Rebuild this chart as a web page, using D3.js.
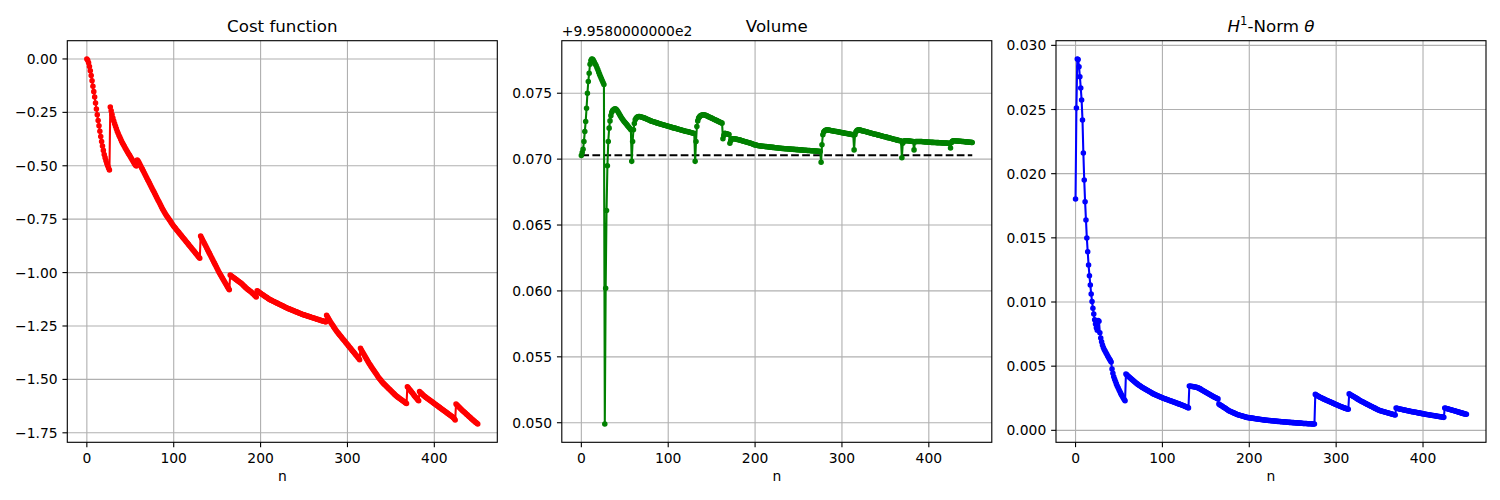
<!DOCTYPE html>
<html><head><meta charset="utf-8">
<script src="https://cdn.jsdelivr.net/npm/d3@7"></script>
<style>body{margin:0;background:#fff}svg{display:block}text{font-family:"DejaVu Sans",sans-serif;fill:#000}</style>
</head><body><svg id="chart" width="1500" height="500"></svg>
<script>
// ---------------- data ----------------
const costValues = [0,-0.006,-0.018,-0.035,-0.055,-0.077,-0.102,-0.128,-0.153,-0.178,-0.206,-0.234,-0.261,-0.288,-0.313,-0.338,-0.363,-0.386,-0.408,-0.428,-0.447,-0.462,-0.476,-0.489,-0.5,-0.51,-0.52,
-0.225,-0.243,-0.26,-0.276,-0.29,-0.303,-0.315,-0.327,-0.338,-0.348,-0.358,-0.367,-0.376,-0.385,-0.393,-0.401,-0.408,-0.416,-0.423,-0.43,-0.437,-0.444,-0.45,-0.457,-0.464,-0.471,-0.478,-0.485,-0.492,-0.497,-0.501,-0.473,
-0.478,-0.485,-0.493,-0.501,-0.509,-0.517,-0.525,-0.533,-0.541,-0.549,-0.557,-0.565,-0.573,-0.581,-0.589,-0.597,-0.605,-0.613,-0.621,-0.629,-0.637,-0.645,-0.653,-0.661,-0.669,-0.677,-0.685,-0.693,-0.701,-0.708,-0.715,-0.722,-0.729,-0.735,-0.741,-0.747,-0.753,-0.759,-0.765,-0.771,-0.777,-0.783,-0.788,-0.793,-0.798,-0.803,-0.808,-0.813,-0.818,-0.823,-0.828,-0.833,-0.838,-0.843,-0.848,-0.853,-0.858,-0.863,-0.868,-0.873,-0.878,-0.883,-0.888,-0.893,-0.898,-0.903,-0.908,-0.913,-0.918,-0.923,-0.928,-0.933,
-0.829,-0.837,-0.845,-0.853,-0.861,-0.869,-0.877,-0.885,-0.893,-0.901,-0.909,-0.917,-0.925,-0.933,-0.941,-0.949,-0.957,-0.965,-0.973,-0.981,-0.989,-0.997,-1.004,-1.011,-1.018,-1.025,-1.032,-1.039,-1.046,-1.053,-1.06,-1.067,-1.074,-1.08,
-1.011,-1.015,-1.018,-1.021,-1.024,-1.027,-1.03,-1.033,-1.036,-1.039,-1.042,-1.045,-1.048,-1.051,-1.055,-1.059,-1.063,-1.067,-1.071,-1.075,-1.078,-1.081,-1.084,-1.087,-1.09,-1.094,-1.098,-1.102,-1.106,-1.11,-1.114,
-1.085,-1.088,-1.091,-1.094,-1.097,-1.1,-1.103,-1.105,-1.108,-1.111,-1.114,-1.116,-1.119,-1.122,-1.125,-1.127,-1.129,-1.131,-1.133,-1.135,-1.137,-1.139,-1.141,-1.143,-1.145,-1.147,-1.149,-1.151,-1.153,-1.155,-1.157,-1.159,-1.161,-1.163,-1.165,-1.167,-1.169,-1.17,-1.172,-1.174,-1.175,-1.177,-1.179,-1.18,-1.182,-1.184,-1.185,-1.187,-1.189,-1.19,-1.192,-1.194,-1.195,-1.197,-1.198,-1.199,-1.201,-1.202,-1.203,-1.205,-1.206,-1.207,-1.209,-1.21,-1.211,-1.213,-1.214,-1.215,-1.217,-1.218,-1.219,-1.221,-1.222,-1.223,-1.225,-1.226,-1.227,-1.228,-1.229,-1.231,
-1.2,-1.207,-1.214,-1.221,-1.228,-1.235,-1.241,-1.247,-1.253,-1.259,-1.265,-1.271,-1.277,-1.282,-1.287,-1.292,-1.297,-1.302,-1.307,-1.312,-1.317,-1.322,-1.327,-1.332,-1.337,-1.342,-1.347,-1.352,-1.357,-1.362,-1.367,-1.372,-1.377,-1.382,-1.387,-1.392,-1.397,-1.402,-1.408,
-1.354,-1.362,-1.37,-1.377,-1.384,-1.391,-1.398,-1.405,-1.412,-1.419,-1.426,-1.432,-1.438,-1.444,-1.45,-1.456,-1.462,-1.468,-1.474,-1.48,-1.486,-1.492,-1.497,-1.502,-1.507,-1.512,-1.517,-1.521,-1.525,-1.529,-1.533,-1.537,-1.541,-1.545,-1.549,-1.553,-1.557,-1.561,-1.565,-1.569,-1.573,-1.577,-1.58,-1.583,-1.586,-1.589,-1.592,-1.595,-1.598,-1.601,-1.604,-1.607,-1.61,-1.613,
-1.534,-1.539,-1.545,-1.55,-1.555,-1.56,-1.565,-1.571,-1.576,-1.581,-1.586,-1.591,-1.596,-1.6,
-1.557,-1.561,-1.565,-1.569,-1.573,-1.577,-1.58,-1.583,-1.586,-1.589,-1.592,-1.595,-1.598,-1.601,-1.604,-1.607,-1.61,-1.613,-1.616,-1.619,-1.622,-1.625,-1.628,-1.631,-1.634,-1.637,-1.64,-1.643,-1.646,-1.649,-1.652,-1.655,-1.658,-1.661,-1.664,-1.667,-1.67,-1.673,-1.676,-1.679,-1.684,-1.69,
-1.615,-1.62,-1.624,-1.628,-1.632,-1.636,-1.64,-1.644,-1.648,-1.651,-1.655,-1.659,-1.663,-1.666,-1.67,-1.674,-1.677,-1.681,-1.685,-1.688,-1.692,-1.695,-1.699,-1.702,-1.705,-1.709];

// volume values relative to the axis offset (+9.9580000000e2)
const volumeOffsetLabel = "+9.9580000000e2";
const volumeValues = [0.07028,0.0705,0.07075,0.07134,0.0721,0.07286,0.07386,0.075,0.07589,0.07652,0.0772,0.07748,0.0776,0.07758,0.07748,0.07735,0.07722,0.0771,0.07694,0.07678,0.0766,0.07643,0.07627,0.07611,0.07596,0.07582,0.07566,
0.0499,0.0602,0.0661,0.0695,
0.07134,0.07235,0.0729,0.0733,0.07355,0.07368,0.07375,0.0738,0.07382,0.07378,0.0737,0.07361,0.0735,0.07338,0.07327,0.07316,0.07306,0.07296,0.07288,0.0728,0.07272,0.07264,0.07256,0.07248,0.0724,0.07232,0.07222,
0.06983,
0.07134,0.07223,0.0727,0.07298,0.0731,0.07318,0.07322,0.07323,0.07323,0.07321,0.07319,0.07317,0.07315,0.07313,0.07311,0.07308,0.07305,0.07302,0.07299,0.07296,0.07293,0.0729,0.07287,0.07285,0.07283,0.07281,0.07279,0.07277,0.07275,0.07273,0.07271,0.07269,0.07267,0.07265,0.07263,0.07261,0.07259,0.07257,0.07255,0.07253,0.07251,0.07249,0.07247,0.07245,0.07243,0.07241,0.07239,0.07237,0.07236,0.07235,0.07233,0.07231,0.07229,0.07227,0.07225,0.07223,0.07221,0.07219,0.07217,0.07215,0.07213,0.07212,0.0721,0.07209,0.07207,0.07205,0.07204,0.07202,0.072,0.07198,0.07197,0.07195,
0.06983,
0.07134,0.07248,0.0729,0.07311,0.07322,0.07328,0.07332,0.07335,0.07336,0.07336,0.07335,0.07333,0.0733,0.07327,0.07323,0.0732,0.07317,0.07314,0.07311,0.07308,0.07304,0.07301,0.07298,0.07295,0.07292,0.07289,0.07286,0.07282,0.07279,0.07276,0.07273,
0.07155,0.0718,0.07197,0.07195,0.07193,0.07191,0.07189,0.07187,
0.07121,0.0714,0.07152,0.07155,0.07155,
0.07154,0.07153,0.07152,0.0715,0.07149,0.07147,0.07146,0.07144,0.07142,0.0714,0.07138,0.07136,0.07134,0.07132,0.0713,0.07128,0.07126,0.07124,0.07122,0.0712,
0.07118,0.07115,0.07113,0.0711,0.07108,0.07107,0.07105,0.07104,0.07102,0.07101,0.071,
0.07099,0.07098,0.07098,0.07097,0.07096,0.07095,0.07095,0.07094,0.07093,0.07092,0.07092,0.07091,0.0709,0.07089,0.07089,0.07088,0.07087,0.07086,0.07086,0.07085,0.07084,0.07083,0.07083,0.07082,0.07081,0.07081,0.0708,
0.07079,0.07079,0.07078,0.07078,0.07077,0.07077,0.07076,0.07076,0.07075,0.07075,0.07074,0.07074,0.07073,0.07073,0.07072,0.07072,0.07071,0.07071,0.0707,0.0707,0.07069,0.07069,0.07068,0.07068,0.07067,0.07067,0.07066,0.07066,0.07065,0.07065,0.07064,0.07064,0.07063,0.07063,0.07062,0.07062,0.07061,0.07061,0.0706,0.0706,0.07059,0.07058,
0.06977,
0.07109,0.07185,0.07205,0.07214,0.07219,0.07221,0.07222,0.07221,0.0722,0.07219,0.07217,0.07216,0.07215,0.07214,0.07212,0.07211,0.0721,0.07209,0.07207,0.07206,0.07205,0.07204,0.07202,0.07201,0.072,0.07199,0.07197,0.07196,0.07195,0.07194,0.07192,0.07191,0.0719,0.07189,0.07187,0.07186,0.07185,
0.0707,
0.07185,0.07205,0.07215,0.0722,0.07223,0.07222,0.0722,0.07218,0.07216,0.07214,0.07213,0.07211,0.07209,0.07207,0.07205,0.07204,0.07202,0.072,0.07198,0.07197,0.07195,0.07193,0.07191,0.07189,0.07188,0.07186,0.07184,0.07182,0.07181,0.07179,0.07177,0.07175,0.07174,0.07172,0.0717,0.07169,0.07167,0.07165,0.07163,0.07162,0.0716,0.07158,0.07156,0.07155,0.07153,0.07151,0.07149,0.07148,0.07146,0.07144,0.07142,0.07141,0.07139,0.07137,
0.0701,
0.07121,0.07135,0.07139,0.0714,0.0714,0.07139,0.07139,0.07138,0.07137,0.07136,0.07135,0.07134,0.07134,
0.0707,
0.07129,0.07133,0.07134,0.07134,0.07134,0.07134,0.07134,0.07133,0.07133,0.07132,0.07132,0.07131,0.07131,0.0713,0.0713,0.07129,0.07129,0.07128,0.07128,0.07127,0.07127,0.07127,0.07126,0.07126,0.07126,0.07125,0.07125,0.07125,0.07124,0.07124,0.07124,0.07123,0.07123,0.07123,0.07122,0.07122,0.07122,0.07122,0.07121,0.07121,0.07121,
0.07085,
0.07125,0.07135,0.07139,0.07139,0.07139,0.07138,0.07138,0.07137,0.07137,0.07136,0.07136,0.07135,0.07134,0.07134,0.07133,0.07132,0.07131,0.07131,0.0713,0.0713,0.07129,0.07128,0.07128,0.07127,0.07126];
const volumeTarget = 0.0703;

const normValues = [0.01803,0.02512,0.02894,0.0289,0.02834,0.02756,0.02668,0.02574,0.02419,0.02161,0.01951,0.01782,0.01639,0.01499,0.01392,0.01289,0.01205,0.01133,0.01063,0.01003,0.00951,0.00907,0.00862,0.00829,0.008,0.0078,0.00855,0.0085,0.0076,0.0072,
0.0069,0.00665,0.00645,0.0063,0.00618,0.00605,0.00593,0.0058,0.00568,0.00556,0.00545,0.00532,0.00478,0.00445,0.00418,0.00398,0.0038,0.00362,0.00346,0.00331,0.00316,0.00302,0.00288,0.00275,0.00263,0.00252,0.00241,0.0023,
0.00439,0.00432,0.00426,0.0042,0.00414,0.00408,0.00402,0.00396,0.0039,0.00384,0.00378,0.00372,0.00367,0.00362,0.00357,0.00352,0.00347,0.00343,0.00338,0.00334,0.0033,0.00326,0.00322,0.00318,0.00314,0.0031,0.00306,0.00302,0.00298,0.00294,0.0029,0.00286,0.00283,0.0028,0.00277,0.00274,0.00271,0.00268,0.00265,0.00262,0.00259,0.00256,0.00253,0.0025,0.00248,0.00246,0.00243,0.00241,0.00238,0.00236,0.00233,0.00231,0.00228,0.00226,0.00223,0.00221,0.00218,0.00216,0.00213,0.00211,0.00208,0.00206,0.00203,0.00201,0.00198,0.00196,0.00193,0.0019,0.00187,0.00184,0.00181,0.00178,0.00175,
0.00345,0.00344,0.00343,0.00342,0.00341,0.0034,0.00338,0.00337,0.00335,0.00333,0.00331,0.00328,0.00325,0.00321,0.00317,0.00313,0.00309,0.00305,0.00301,0.00297,0.00293,0.00289,0.00285,0.00281,0.00277,0.00273,0.00269,0.00266,0.00262,0.00258,0.00255,0.00252,0.00248,0.00245,
0.00205,0.002,0.00196,0.00191,0.00187,0.00182,0.00178,0.00174,0.0017,0.00165,0.0016,0.00155,0.00151,0.00148,0.00145,0.00142,0.00139,0.00136,0.00133,0.0013,0.00127,0.00124,0.00122,0.00119,0.00117,0.00115,0.00113,0.00111,0.00109,0.00107,0.00105,0.00103,0.00101,0.001,0.00099,0.00098,0.00097,0.00096,0.00095,0.00094,0.00093,0.00092,0.00091,0.0009,0.00089,0.00088,0.00087,0.00086,0.00085,0.00084,0.00083,0.00082,0.00081,0.0008,0.00079,0.00078,0.00078,0.00077,0.00076,0.00076,0.00075,0.00074,0.00074,0.00073,0.00072,0.00072,0.00071,0.0007,0.0007,0.00069,0.00069,0.00068,0.00067,0.00067,0.00066,0.00066,0.00065,0.00065,0.00064,0.00063,0.00063,0.00062,0.00062,0.00061,0.00061,0.0006,0.0006,0.00059,0.00059,0.00058,0.00058,0.00057,0.00057,0.00056,0.00056,0.00055,0.00055,0.00054,0.00054,0.00053,0.00053,0.00053,0.00052,0.00052,0.00051,0.00051,0.00051,0.0005,0.0005,0.0005,0.00049,
0.0028,0.00276,0.00272,0.00268,0.00264,0.0026,0.00256,0.00253,0.0025,0.00246,0.00243,0.0024,0.00237,0.00234,0.00231,0.00228,0.00225,0.00222,0.00219,0.00216,0.00213,0.0021,0.00207,0.00204,0.00201,0.00198,0.00195,0.00192,0.00189,0.00186,0.00184,0.00181,0.00178,0.00176,0.00173,0.00171,0.00168,0.00166,0.00164,
0.00284,0.00279,0.00275,0.00271,0.00267,0.00263,0.00259,0.00255,0.00251,0.00247,0.00243,0.00239,0.00235,0.00231,0.00227,0.00223,0.0022,0.00216,0.00213,0.00209,0.00206,0.00202,0.00199,0.00195,0.00192,0.00188,0.00185,0.00181,0.00178,0.00175,0.00171,0.00168,0.00165,0.00161,0.00158,0.00155,0.00153,0.00151,0.00149,0.00147,0.00145,0.00143,0.00141,0.00139,0.00137,0.00135,0.00133,0.00131,0.00129,0.00127,0.00125,0.00123,0.00121,0.00119,
0.00174,0.00172,0.0017,0.00168,0.00167,0.00165,0.00164,0.00162,0.00161,0.00159,0.00158,0.00156,0.00155,0.00153,0.00152,0.0015,0.00149,0.00147,0.00146,0.00145,0.00143,0.00142,0.00141,0.0014,0.00138,0.00137,0.00136,0.00134,0.00133,0.00132,0.0013,0.00129,0.00128,0.00127,0.00125,0.00124,0.00123,0.00122,0.00121,0.00119,0.00118,0.00117,0.00116,0.00115,0.00114,0.00113,0.00112,0.0011,0.00109,0.00108,0.00107,0.00106,0.00105,0.00104,0.00102,0.00101,
0.00174,0.00172,0.0017,0.00168,0.00166,0.00164,0.00162,0.0016,0.00158,0.00156,0.00154,0.00152,0.0015,0.00148,0.00146,0.00144,0.00142,0.0014,0.00138,0.00136,0.00134,0.00132,0.0013,0.00128,0.00127,0.00125];

const nTicks = [0, 100, 200, 300, 400];
const costTicks = [0, -0.25, -0.5, -0.75, -1.0, -1.25, -1.5, -1.75];
const volumeTicks = [0.050, 0.055, 0.060, 0.065, 0.070, 0.075];
const normTicks = [0.000, 0.005, 0.010, 0.015, 0.020, 0.025, 0.030];
const titles = ["Cost function", "Volume", null];
const xLabel = "n";

// ---------------- drawing ----------------
const svg = d3.select("#chart");
const PX = 100/72;              // points -> px at dpi 100
const FS = 10*PX, TFS = 12*PX;
const axW = 430, axTop = 40.7, axBottom = 442.3;
const minus = s => s.replace(/-/g, "\u2212");

const panels = [
  {left: 67.3,  values: costValues,   color: "#ff0000", ticks: costTicks,   fmt: d3.format(".2f"), title: titles[0]},
  {left: 561.8, values: volumeValues, color: "#008000", ticks: volumeTicks, fmt: d3.format(".3f"), title: titles[1], target: volumeTarget, offset: volumeOffsetLabel},
  {left: 1056.0,values: normValues,   color: "#0000ff", ticks: normTicks,   fmt: d3.format(".3f"), title: null}
];

panels.forEach(p => {
  const g = svg.append("g");
  const idx = p.values.map((v, i) => i);
  const xe = d3.extent(idx), xp = (xe[1]-xe[0])*0.05;
  const x = d3.scaleLinear().domain([xe[0]-xp, xe[1]+xp]).range([p.left, p.left + axW]);
  const all = p.target !== undefined ? p.values.concat([p.target]) : p.values;
  const ye = d3.extent(all), yp = (ye[1]-ye[0])*0.05;
  const y = d3.scaleLinear().domain([ye[0]-yp, ye[1]+yp]).range([axBottom, axTop]);

  // grid
  const grid = g.append("g").attr("stroke", "#b0b0b0").attr("stroke-width", 0.8*PX);
  nTicks.forEach(t => grid.append("line").attr("x1", x(t)).attr("x2", x(t)).attr("y1", axTop).attr("y2", axBottom));
  p.ticks.forEach(t => grid.append("line").attr("y1", y(t)).attr("y2", y(t)).attr("x1", p.left).attr("x2", p.left + axW));

  // dashed target
  if (p.target !== undefined) {
    g.append("path")
      .attr("d", d3.line().x(d => x(d)).y(() => y(p.target))([xe[0], xe[1]]))
      .attr("stroke", "#000").attr("stroke-width", 1.5*PX).attr("fill", "none")
      .attr("stroke-dasharray", `${3.7*1.5*PX},${1.6*1.5*PX}`);
  }

  // line + markers
  const line = d3.line().x((d, i) => x(i)).y(d => y(d));
  g.append("path").attr("d", line(p.values)).attr("fill", "none")
    .attr("stroke", p.color).attr("stroke-width", 1.5*PX).attr("stroke-linejoin", "round").attr("stroke-linecap", "square");
  g.append("g").selectAll("circle").data(p.values).join("circle")
    .attr("cx", (d, i) => x(i)).attr("cy", d => y(d)).attr("r", 1.5*PX)
    .attr("fill", p.color).attr("stroke", p.color).attr("stroke-width", 1.0*PX);

  // spines
  g.append("rect").attr("x", p.left).attr("y", axTop).attr("width", axW).attr("height", axBottom - axTop)
    .attr("fill", "none").attr("stroke", "#000").attr("stroke-width", 0.8*PX);

  // ticks
  const tl = 3.5*PX, pad = 3.5*PX;
  nTicks.forEach(t => {
    g.append("line").attr("x1", x(t)).attr("x2", x(t)).attr("y1", axBottom).attr("y2", axBottom + tl)
      .attr("stroke", "#000").attr("stroke-width", 0.8*PX);
    g.append("text").attr("x", x(t)).attr("y", axBottom + tl + pad).attr("dy", "0.76em")
      .attr("text-anchor", "middle").attr("font-size", FS).text(minus(String(t)));
  });
  p.ticks.forEach(t => {
    g.append("line").attr("x1", p.left).attr("x2", p.left - tl).attr("y1", y(t)).attr("y2", y(t))
      .attr("stroke", "#000").attr("stroke-width", 0.8*PX);
    g.append("text").attr("x", p.left - tl - pad).attr("y", y(t)).attr("dy", "0.36em")
      .attr("text-anchor", "end").attr("font-size", FS).text(minus(p.fmt(t)));
  });

  // x label
  g.append("text").attr("x", p.left + axW/2).attr("y", 480.5).attr("text-anchor", "middle")
    .attr("font-size", FS).text(xLabel);

  // offset text
  if (p.offset) {
    g.append("text").attr("x", p.left).attr("y", 35.8).attr("font-size", FS).text(p.offset);
  }

  // title
  const tt = g.append("text").attr("x", p.left + axW/2).attr("y", axTop - 6*PX)
    .attr("text-anchor", "middle").attr("font-size", TFS);
  if (p.title) {
    tt.text(p.title);
  } else {
    tt.append("tspan").attr("font-style", "italic").text("H");
    tt.append("tspan").attr("font-size", TFS*0.7).attr("dy", -0.42*TFS).text("1");
    tt.append("tspan").attr("dy", 0.42*TFS).text("-Norm ");
    tt.append("tspan").attr("font-style", "italic").text("\u03b8");
  }
});
</script>
</body></html>
